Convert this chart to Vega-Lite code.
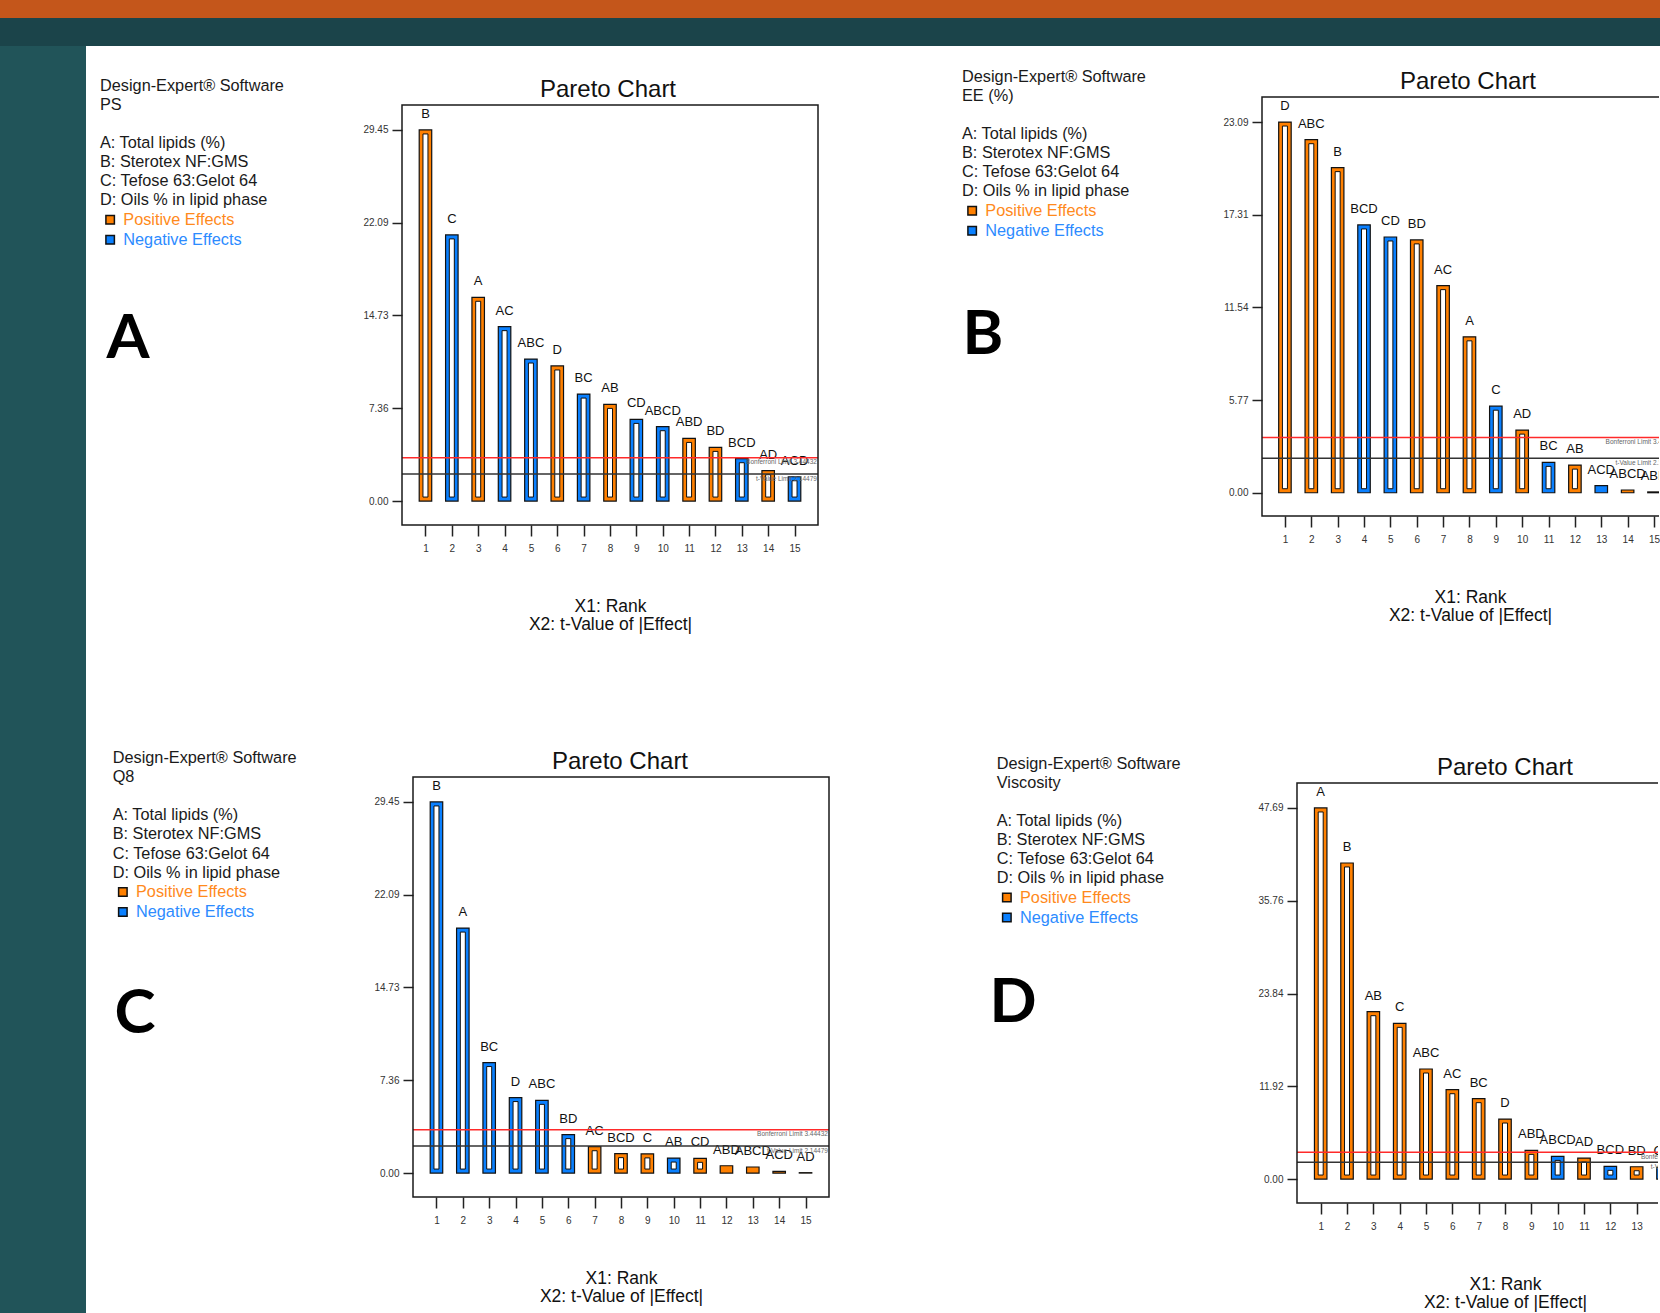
{
"$schema": "https://vega.github.io/schema/vega-lite/v6.json",
"padding": 0,
"background": "white",
"columns": 5,
"spacing": 0,
"bounds": "flush",
"align": "each",
"resolve": {"scale": {"color": "independent", "stroke": "independent"}, "legend": {"color": "independent"}},
"config": {"view": {"stroke": null}, "font": "Liberation Sans", "axis": {"grid": false, "labelOverlap": false}, "axisX": {"labelOverlap": false}},
"datasets": {
"limits": [{"limit": "Bonferroni Limit", "value": 3.44432, "label": "Bonferroni Limit 3.44432"}, {"limit": "t-Value Limit", "value": 2.14479, "label": "t-Value Limit 2.14479"}],
"ps": [
{"rank": 1, "term": "B", "t": 29.45, "effect": "Positive Effects"},
{"rank": 2, "term": "C", "t": 21.12, "effect": "Negative Effects"},
{"rank": 3, "term": "A", "t": 16.17, "effect": "Positive Effects"},
{"rank": 4, "term": "AC", "t": 13.84, "effect": "Negative Effects"},
{"rank": 5, "term": "ABC", "t": 11.27, "effect": "Negative Effects"},
{"rank": 6, "term": "D", "t": 10.72, "effect": "Positive Effects"},
{"rank": 7, "term": "BC", "t": 8.49, "effect": "Negative Effects"},
{"rank": 8, "term": "AB", "t": 7.67, "effect": "Positive Effects"},
{"rank": 9, "term": "CD", "t": 6.48, "effect": "Negative Effects"},
{"rank": 10, "term": "ABCD", "t": 5.90, "effect": "Negative Effects"},
{"rank": 11, "term": "ABD", "t": 4.97, "effect": "Positive Effects"},
{"rank": 12, "term": "BD", "t": 4.26, "effect": "Positive Effects"},
{"rank": 13, "term": "BCD", "t": 3.36, "effect": "Negative Effects"},
{"rank": 14, "term": "AD", "t": 2.41, "effect": "Positive Effects"},
{"rank": 15, "term": "ACD", "t": 1.93, "effect": "Negative Effects"}],
"ee": [
{"rank": 1, "term": "D", "t": 23.09, "effect": "Positive Effects"},
{"rank": 2, "term": "ABC", "t": 21.99, "effect": "Positive Effects"},
{"rank": 3, "term": "B", "t": 20.25, "effect": "Positive Effects"},
{"rank": 4, "term": "BCD", "t": 16.68, "effect": "Negative Effects"},
{"rank": 5, "term": "CD", "t": 15.93, "effect": "Negative Effects"},
{"rank": 6, "term": "BD", "t": 15.75, "effect": "Positive Effects"},
{"rank": 7, "term": "AC", "t": 12.90, "effect": "Positive Effects"},
{"rank": 8, "term": "A", "t": 9.71, "effect": "Positive Effects"},
{"rank": 9, "term": "C", "t": 5.39, "effect": "Negative Effects"},
{"rank": 10, "term": "AD", "t": 3.90, "effect": "Positive Effects"},
{"rank": 11, "term": "BC", "t": 1.89, "effect": "Negative Effects"},
{"rank": 12, "term": "AB", "t": 1.72, "effect": "Positive Effects"},
{"rank": 13, "term": "ACD", "t": 0.44, "effect": "Negative Effects"},
{"rank": 14, "term": "ABCD", "t": 0.17, "effect": "Positive Effects"},
{"rank": 15, "term": "ABD", "t": 0.05, "effect": "Positive Effects"}],
"q8": [
{"rank": 1, "term": "B", "t": 29.45, "effect": "Negative Effects"},
{"rank": 2, "term": "A", "t": 19.44, "effect": "Negative Effects"},
{"rank": 3, "term": "BC", "t": 8.77, "effect": "Negative Effects"},
{"rank": 4, "term": "D", "t": 5.99, "effect": "Negative Effects"},
{"rank": 5, "term": "ABC", "t": 5.77, "effect": "Negative Effects"},
{"rank": 6, "term": "BD", "t": 3.05, "effect": "Negative Effects"},
{"rank": 7, "term": "AC", "t": 2.09, "effect": "Positive Effects"},
{"rank": 8, "term": "BCD", "t": 1.54, "effect": "Positive Effects"},
{"rank": 9, "term": "C", "t": 1.52, "effect": "Positive Effects"},
{"rank": 10, "term": "AB", "t": 1.19, "effect": "Negative Effects"},
{"rank": 11, "term": "CD", "t": 1.17, "effect": "Positive Effects"},
{"rank": 12, "term": "ABD", "t": 0.58, "effect": "Positive Effects"},
{"rank": 13, "term": "ABCD", "t": 0.48, "effect": "Positive Effects"},
{"rank": 14, "term": "ACD", "t": 0.13, "effect": "Positive Effects"},
{"rank": 15, "term": "AD", "t": 0.03, "effect": "Positive Effects"}],
"visc": [
{"rank": 1, "term": "A", "t": 47.69, "effect": "Positive Effects"},
{"rank": 2, "term": "B", "t": 40.62, "effect": "Positive Effects"},
{"rank": 3, "term": "AB", "t": 21.51, "effect": "Positive Effects"},
{"rank": 4, "term": "C", "t": 20.01, "effect": "Positive Effects"},
{"rank": 5, "term": "ABC", "t": 14.14, "effect": "Positive Effects"},
{"rank": 6, "term": "AC", "t": 11.48, "effect": "Positive Effects"},
{"rank": 7, "term": "BC", "t": 10.33, "effect": "Positive Effects"},
{"rank": 8, "term": "D", "t": 7.71, "effect": "Positive Effects"},
{"rank": 9, "term": "ABD", "t": 3.68, "effect": "Positive Effects"},
{"rank": 10, "term": "ABCD", "t": 2.91, "effect": "Negative Effects"},
{"rank": 11, "term": "AD", "t": 2.70, "effect": "Positive Effects"},
{"rank": 12, "term": "BCD", "t": 1.63, "effect": "Negative Effects"},
{"rank": 13, "term": "BD", "t": 1.58, "effect": "Positive Effects"},
{"rank": 14, "term": "CD", "t": 1.50, "effect": "Negative Effects"},
{"rank": 15, "term": "ACD", "t": 0.90, "effect": "Negative Effects"}]
},
"concat": [
{"width": 86, "height": 18, "view": {"fill": "#C4561B", "stroke": null}, "data": {"values": []}, "mark": "point"},
{"width": 316, "height": 18, "view": {"fill": "#C4561B", "stroke": null}, "data": {"values": []}, "mark": "point"},
{"width": 427, "height": 18, "view": {"fill": "#C4561B", "stroke": null}, "data": {"values": []}, "mark": "point"},
{"width": 432, "height": 18, "view": {"fill": "#C4561B", "stroke": null}, "data": {"values": []}, "mark": "point"},
{"width": 399, "height": 18, "view": {"fill": "#C4561B", "stroke": null}, "data": {"values": []}, "mark": "point"},

{"width": 86, "height": 28, "view": {"fill": "#1B444A", "stroke": null}, "data": {"values": []}, "mark": "point"},
{"width": 316, "height": 28, "view": {"fill": "#1B444A", "stroke": null}, "data": {"values": []}, "mark": "point"},
{"width": 427, "height": 28, "view": {"fill": "#1B444A", "stroke": null}, "data": {"values": []}, "mark": "point"},
{"width": 432, "height": 28, "view": {"fill": "#1B444A", "stroke": null}, "data": {"values": []}, "mark": "point"},
{"width": 399, "height": 28, "view": {"fill": "#1B444A", "stroke": null}, "data": {"values": []}, "mark": "point"},

{"width": 86, "height": 50, "view": {"fill": "#215459", "stroke": null}, "data": {"values": []}, "mark": "point"},
{"width": 316, "height": 50, "data": {"values": []}, "mark": "point"},
{"width": 427, "height": 50, "data": {"values": []}, "mark": "point"},
{"width": 432, "height": 50, "data": {"values": []}, "mark": "point"},
{"width": 399, "height": 50, "data": {"values": []}, "mark": "point"},

{"width": 86, "height": 429, "view": {"fill": "#215459", "stroke": null}, "data": {"values": []}, "mark": "point"},
{"width": 316, "height": 429, "data": {"values": []}, "mark": "point"},
{
 "width": 416, "height": 429,
 "title": {"text": "Pareto Chart", "frame": "group", "fontSize": 24, "fontWeight": "normal", "color": "#111111", "offset": 0, "dy": 43.5, "dx": -2, "baseline": "alphabetic", "anchor": "middle"},
 "data": {"name": "ps"},
 "layer": [
  {"mark": {"type": "bar", "width": 12.5, "stroke": "#111111", "strokeWidth": 1.2},
   "encoding": {
    "x": {"field": "rank", "type": "quantitative", "scale": {"domain": [0.11, 15.89], "nice": false, "zero": false, "padding": 0},
     "axis": {"values": [1,2,3,4,5,6,7,8,9,10,11,12,13,14,15], "tickCount": 30, "format": "d", "domain": false, "tickSize": 11, "tickWidth": 1.5, "tickColor": "#222222", "labelFontSize": 10, "labelColor": "#333333", "labelPadding": 7, "labelFlush": false, "labelOverlap": false,
      "title": ["X1: Rank", "X2: t-Value of |Effect|"], "titleFontSize": 17.5, "titleFontWeight": "normal", "titleColor": "#111111", "titleLineHeight": 18, "titleX": 208, "titleY": 86.5, "titleAlign": "center", "titleBaseline": "alphabetic"}},
    "y": {"field": "t", "type": "quantitative", "scale": {"domain": [-1.9, 32.144], "nice": false, "zero": false},
     "axis": {"values": [0, 7.36, 14.73, 22.09, 29.45], "tickCount": 30, "format": ".2f", "domain": false, "tickSize": 10, "tickWidth": 1.5, "tickColor": "#222222", "labelFontSize": 10, "labelColor": "#333333", "labelPadding": 4, "labelFlush": false, "labelOverlap": false,
      "title": "A", "titleAngle": 0, "titleFont": "Lato", "titleFontSize": 62, "titleFontWeight": "bold", "titleColor": "#000000", "titleX": -296, "titleY": 261, "titleAlign": "left", "titleBaseline": "alphabetic"}},
    "color": {"field": "effect", "type": "nominal", "scale": {"domain": ["Positive Effects", "Negative Effects"], "range": ["#FF8000", "#0A80FF"]},
     "legend": {"orient": "none", "legendX": -302, "legendY": -18.2, "padding": 0,
      "title": ["Design-Expert® Software", "PS", "\u200b", "A: Total lipids (%)", "B: Sterotex NF:GMS", "C: Tefose 63:Gelot 64", "D: Oils % in lipid phase"],
      "titleFontSize": 16.3, "titleFontWeight": "normal", "titleColor": "#1a1a1a", "titleLineHeight": 19.1, "titlePadding": 3, "titleLimit": 400, "titleAnchor": "start",
      "symbolType": "square", "symbolSize": 72, "symbolStrokeColor": "#111111", "symbolStrokeWidth": 1.5, "symbolOffset": 2,
      "labelFontSize": 16.3, "labelOffset": 5, "labelLimit": 300, "rowPadding": 3,
      "encode": {"labels": {"update": {"fill": {"signal": "datum.value === 'Positive Effects' ? '#FF8A1C' : '#2C8BFF'"}}}}}}
   }},
  {"transform": [{"filter": "datum.t > 0.75"}],
   "mark": {"type": "bar", "width": 5, "fill": "white", "stroke": "#111111", "strokeWidth": 1, "yOffset": 4, "y2Offset": -4},
   "encoding": {"x": {"field": "rank", "type": "quantitative"}, "y": {"field": "t", "type": "quantitative"}, "y2": {"datum": 0}}},
  {"mark": {"type": "text", "baseline": "alphabetic", "dy": -12, "fontSize": 13, "color": "#111111"},
   "encoding": {"x": {"field": "rank", "type": "quantitative"}, "y": {"field": "t", "type": "quantitative"}, "text": {"field": "term"}}},
  {"data": {"name": "limits"}, "mark": {"type": "rule", "strokeWidth": 1.5},
   "encoding": {"x": {"datum": 0.11}, "x2": {"datum": 15.89}, "y": {"field": "value", "type": "quantitative"}, "stroke": {"field": "limit", "type": "nominal", "scale": {"domain": ["Bonferroni Limit", "t-Value Limit"], "range": ["#FF2A2A", "#333333"]}, "legend": null}}},
  {"data": {"name": "limits"}, "mark": {"type": "text", "align": "right", "baseline": "top", "dy": 1.5, "fontSize": 6.5, "color": "#666666"},
   "encoding": {"x": {"datum": 15.85}, "y": {"field": "value", "type": "quantitative"}, "text": {"field": "label"}}},
  {"data": {"values": [{}]}, "mark": {"type": "rect", "filled": false, "color": "#1a1a1a", "strokeWidth": 1.5},
   "encoding": {"x": {"datum": 0.11}, "x2": {"datum": 15.89}, "y": {"datum": -1.9}, "y2": {"datum": 31.43}}}
 ]
},
{"width": 432, "height": 421, "data": {"values": []}, "mark": "point"},
{
 "width": 398, "height": 421,
 "title": {"text": "Pareto Chart", "frame": "group", "fontSize": 24, "fontWeight": "normal", "color": "#111111", "offset": 0, "dy": 43.9, "dx": 8, "baseline": "alphabetic", "anchor": "middle"},
 "data": {"name": "ee"},
 "layer": [
  {"mark": {"type": "bar", "width": 12.5, "stroke": "#111111", "strokeWidth": 1.2, "clip": true},
   "encoding": {
    "x": {"field": "rank", "type": "quantitative", "scale": {"domain": [0.092, 15.19], "nice": false, "zero": false, "padding": 0},
     "axis": {"values": [1,2,3,4,5,6,7,8,9,10,11,12,13,14,15], "tickCount": 30, "format": "d", "domain": false, "offset": -1, "tickSize": 11, "tickWidth": 1.5, "tickColor": "#222222", "labelFontSize": 10, "labelColor": "#333333", "labelPadding": 7, "labelFlush": false, "labelOverlap": false,
      "title": ["X1: Rank", "X2: t-Value of |Effect|"], "titleFontSize": 17.5, "titleFontWeight": "normal", "titleColor": "#111111", "titleLineHeight": 18, "titleX": 209, "titleY": 86.5, "titleAlign": "center", "titleBaseline": "alphabetic"}},
    "y": {"field": "t", "type": "quantitative", "scale": {"domain": [-1.512, 24.712], "nice": false, "zero": false},
     "axis": {"values": [0, 5.77, 11.54, 17.31, 23.09], "tickCount": 30, "format": ".2f", "domain": false, "offset": -1, "tickSize": 10, "tickWidth": 1.5, "tickColor": "#222222", "labelFontSize": 10, "labelColor": "#333333", "labelPadding": 4, "labelFlush": false, "labelOverlap": false,
      "title": "B", "titleAngle": 0, "titleFont": "Lato", "titleFontSize": 62, "titleFontWeight": "bold", "titleColor": "#000000", "titleX": -300, "titleY": 257, "titleAlign": "left", "titleBaseline": "alphabetic"}},
    "color": {"field": "effect", "type": "nominal", "scale": {"domain": ["Positive Effects", "Negative Effects"], "range": ["#FF8000", "#0A80FF"]},
     "legend": {"orient": "none", "legendX": -299, "legendY": -27.2, "padding": 0,
      "title": ["Design-Expert® Software", "EE (%)", "\u200b", "A: Total lipids (%)", "B: Sterotex NF:GMS", "C: Tefose 63:Gelot 64", "D: Oils % in lipid phase"],
      "titleFontSize": 16.3, "titleFontWeight": "normal", "titleColor": "#1a1a1a", "titleLineHeight": 19.1, "titlePadding": 3, "titleLimit": 400, "titleAnchor": "start",
      "symbolType": "square", "symbolSize": 72, "symbolStrokeColor": "#111111", "symbolStrokeWidth": 1.5, "symbolOffset": 2,
      "labelFontSize": 16.3, "labelOffset": 5, "labelLimit": 300, "rowPadding": 3,
      "encode": {"labels": {"update": {"fill": {"signal": "datum.value === 'Positive Effects' ? '#FF8A1C' : '#2C8BFF'"}}}}}}
   }},
  {"transform": [{"filter": "datum.t > 0.6"}],
   "mark": {"type": "bar", "width": 5, "fill": "white", "stroke": "#111111", "strokeWidth": 1, "yOffset": 4, "y2Offset": -4, "clip": true},
   "encoding": {"x": {"field": "rank", "type": "quantitative"}, "y": {"field": "t", "type": "quantitative"}, "y2": {"datum": 0}}},
  {"mark": {"type": "text", "baseline": "alphabetic", "dy": -12, "fontSize": 13, "color": "#111111", "clip": true},
   "encoding": {"x": {"field": "rank", "type": "quantitative"}, "y": {"field": "t", "type": "quantitative"}, "text": {"field": "term"}}},
  {"data": {"name": "limits"}, "mark": {"type": "rule", "strokeWidth": 1.5, "clip": true},
   "encoding": {"x": {"datum": 0.13}, "x2": {"datum": 15.9}, "y": {"field": "value", "type": "quantitative"}, "stroke": {"field": "limit", "type": "nominal", "scale": {"domain": ["Bonferroni Limit", "t-Value Limit"], "range": ["#FF2A2A", "#333333"]}, "legend": null}}},
  {"data": {"name": "limits"}, "mark": {"type": "text", "align": "right", "baseline": "top", "dy": 1.5, "fontSize": 6.5, "color": "#666666", "clip": true},
   "encoding": {"x": {"datum": 15.85}, "y": {"field": "value", "type": "quantitative"}, "text": {"field": "label"}}},
  {"data": {"values": [{}]}, "mark": {"type": "rect", "filled": false, "color": "#1a1a1a", "strokeWidth": 1.5, "clip": true},
   "encoding": {"x": {"datum": 0.13}, "x2": {"datum": 15.9}, "y": {"datum": -1.45}, "y2": {"datum": 24.65}}}
 ]
},

{"width": 86, "height": 252, "view": {"fill": "#215459", "stroke": null}, "data": {"values": []}, "mark": "point"},
{"width": 316, "height": 252, "data": {"values": []}, "mark": "point"},
{"width": 427, "height": 252, "data": {"values": []}, "mark": "point"},
{"width": 432, "height": 252, "data": {"values": []}, "mark": "point"},
{"width": 399, "height": 252, "data": {"values": []}, "mark": "point"},

{"width": 86, "height": 536, "view": {"fill": "#215459", "stroke": null}, "data": {"values": []}, "mark": "point"},
{"width": 316, "height": 427, "data": {"values": []}, "mark": "point"},
{
 "width": 427, "height": 420,
 "title": {"text": "Pareto Chart", "frame": "group", "fontSize": 24, "fontWeight": "normal", "color": "#111111", "offset": 0, "dy": 43.1, "dx": 4.5, "baseline": "alphabetic", "anchor": "middle"},
 "data": {"name": "q8"},
 "layer": [
  {"mark": {"type": "bar", "width": 12.5, "stroke": "#111111", "strokeWidth": 1.2},
   "encoding": {
    "x": {"field": "rank", "type": "quantitative", "scale": {"domain": [-0.3073, 15.89], "nice": false, "zero": false, "padding": 0},
     "axis": {"values": [1,2,3,4,5,6,7,8,9,10,11,12,13,14,15], "tickCount": 30, "format": "d", "domain": false, "tickSize": 11, "tickWidth": 1.5, "tickColor": "#222222", "labelFontSize": 10, "labelColor": "#333333", "labelPadding": 7, "labelFlush": false, "labelOverlap": false,
      "title": ["X1: Rank", "X2: t-Value of |Effect|"], "titleFontSize": 17.5, "titleFontWeight": "normal", "titleColor": "#111111", "titleLineHeight": 18, "titleX": 219, "titleY": 86.5, "titleAlign": "center", "titleBaseline": "alphabetic"}},
    "y": {"field": "t", "type": "quantitative", "scale": {"domain": [-1.9, 31.43], "nice": false, "zero": false},
     "axis": {"values": [0, 7.36, 14.73, 22.09, 29.45], "tickCount": 30, "format": ".2f", "domain": false, "offset": -11, "tickSize": 10, "tickWidth": 1.5, "tickColor": "#222222", "labelFontSize": 10, "labelColor": "#333333", "labelPadding": 4, "labelFlush": false, "labelOverlap": false,
      "title": "C", "titleAngle": 0, "titleFont": "Lato", "titleFontSize": 62, "titleFontWeight": "bold", "titleColor": "#000000", "titleX": -299, "titleY": 255, "titleAlign": "left", "titleBaseline": "alphabetic"}},
    "color": {"field": "effect", "type": "nominal", "scale": {"domain": ["Positive Effects", "Negative Effects"], "range": ["#FF8000", "#0A80FF"]},
     "legend": {"orient": "none", "legendX": -289.3, "legendY": -27, "padding": 0,
      "title": ["Design-Expert® Software", "Q8", "\u200b", "A: Total lipids (%)", "B: Sterotex NF:GMS", "C: Tefose 63:Gelot 64", "D: Oils % in lipid phase"],
      "titleFontSize": 16.3, "titleFontWeight": "normal", "titleColor": "#1a1a1a", "titleLineHeight": 19.1, "titlePadding": 3, "titleLimit": 400, "titleAnchor": "start",
      "symbolType": "square", "symbolSize": 72, "symbolStrokeColor": "#111111", "symbolStrokeWidth": 1.5, "symbolOffset": 2,
      "labelFontSize": 16.3, "labelOffset": 5, "labelLimit": 300, "rowPadding": 3,
      "encode": {"labels": {"update": {"fill": {"signal": "datum.value === 'Positive Effects' ? '#FF8A1C' : '#2C8BFF'"}}}}}}
   }},
  {"transform": [{"filter": "datum.t > 0.75"}],
   "mark": {"type": "bar", "width": 5, "fill": "white", "stroke": "#111111", "strokeWidth": 1, "yOffset": 4, "y2Offset": -4},
   "encoding": {"x": {"field": "rank", "type": "quantitative"}, "y": {"field": "t", "type": "quantitative"}, "y2": {"datum": 0}}},
  {"mark": {"type": "text", "baseline": "alphabetic", "dy": -12, "fontSize": 13, "color": "#111111"},
   "encoding": {"x": {"field": "rank", "type": "quantitative"}, "y": {"field": "t", "type": "quantitative"}, "text": {"field": "term"}}},
  {"data": {"name": "limits"}, "mark": {"type": "rule", "strokeWidth": 1.5},
   "encoding": {"x": {"datum": 0.11}, "x2": {"datum": 15.89}, "y": {"field": "value", "type": "quantitative"}, "stroke": {"field": "limit", "type": "nominal", "scale": {"domain": ["Bonferroni Limit", "t-Value Limit"], "range": ["#FF2A2A", "#333333"]}, "legend": null}}},
  {"data": {"name": "limits"}, "mark": {"type": "text", "align": "right", "baseline": "top", "dy": 1.5, "fontSize": 6.5, "color": "#666666"},
   "encoding": {"x": {"datum": 15.85}, "y": {"field": "value", "type": "quantitative"}, "text": {"field": "label"}}},
  {"data": {"values": [{}]}, "mark": {"type": "rect", "filled": false, "color": "#1a1a1a", "strokeWidth": 1.5},
   "encoding": {"x": {"datum": 0.11}, "x2": {"datum": 15.89}, "y": {"datum": -1.9}, "y2": {"datum": 31.43}}}
 ]
},
{"width": 432, "height": 427, "data": {"values": []}, "mark": "point"},
{
 "width": 397, "height": 427,
 "title": {"text": "Pareto Chart", "frame": "group", "fontSize": 24, "fontWeight": "normal", "color": "#111111", "offset": 0, "dy": 43.1, "dx": 45.5, "baseline": "alphabetic", "anchor": "middle"},
 "data": {"name": "visc"},
 "layer": [
  {"mark": {"type": "bar", "width": 12.5, "stroke": "#111111", "strokeWidth": 1.2, "clip": true},
   "encoding": {
    "x": {"field": "rank", "type": "quantitative", "scale": {"domain": [-1.267, 13.81], "nice": false, "zero": false, "padding": 0},
     "axis": {"values": [1,2,3,4,5,6,7,8,9,10,11,12,13], "tickCount": 30, "format": "d", "domain": false, "offset": -1, "tickSize": 11, "tickWidth": 1.5, "tickColor": "#222222", "labelFontSize": 10, "labelColor": "#333333", "labelPadding": 7, "labelFlush": false, "labelOverlap": false,
      "title": ["X1: Rank", "X2: t-Value of |Effect|"], "titleFontSize": 17.5, "titleFontWeight": "normal", "titleColor": "#111111", "titleLineHeight": 18, "titleX": 244, "titleY": 86.5, "titleAlign": "center", "titleBaseline": "alphabetic"}},
    "y": {"field": "t", "type": "quantitative", "scale": {"domain": [-3.2085, 51.671], "nice": false, "zero": false},
     "axis": {"values": [0, 11.92, 23.84, 35.76, 47.69], "tickCount": 30, "format": ".2f", "domain": false, "offset": -36, "tickSize": 10, "tickWidth": 1.5, "tickColor": "#222222", "labelFontSize": 10, "labelColor": "#333333", "labelPadding": 4, "labelFlush": false, "labelOverlap": false,
      "title": "D", "titleAngle": 0, "titleFont": "Lato", "titleFontSize": 62, "titleFontWeight": "bold", "titleColor": "#000000", "titleX": -308, "titleY": 244, "titleAlign": "left", "titleBaseline": "alphabetic"}},
    "color": {"field": "effect", "type": "nominal", "scale": {"domain": ["Positive Effects", "Negative Effects"], "range": ["#FF8000", "#0A80FF"]},
     "legend": {"orient": "none", "legendX": -264.3, "legendY": -21.5, "padding": 0,
      "title": ["Design-Expert® Software", "Viscosity", "\u200b", "A: Total lipids (%)", "B: Sterotex NF:GMS", "C: Tefose 63:Gelot 64", "D: Oils % in lipid phase"],
      "titleFontSize": 16.3, "titleFontWeight": "normal", "titleColor": "#1a1a1a", "titleLineHeight": 19.1, "titlePadding": 3, "titleLimit": 400, "titleAnchor": "start",
      "symbolType": "square", "symbolSize": 72, "symbolStrokeColor": "#111111", "symbolStrokeWidth": 1.5, "symbolOffset": 2,
      "labelFontSize": 16.3, "labelOffset": 5, "labelLimit": 300, "rowPadding": 3,
      "encode": {"labels": {"update": {"fill": {"signal": "datum.value === 'Positive Effects' ? '#FF8A1C' : '#2C8BFF'"}}}}}}
   }},
  {"transform": [{"filter": "datum.t > 1.2"}],
   "mark": {"type": "bar", "width": 5, "fill": "white", "stroke": "#111111", "strokeWidth": 1, "yOffset": 4, "y2Offset": -4, "clip": true},
   "encoding": {"x": {"field": "rank", "type": "quantitative"}, "y": {"field": "t", "type": "quantitative"}, "y2": {"datum": 0}}},
  {"mark": {"type": "text", "baseline": "alphabetic", "dy": -12, "fontSize": 13, "color": "#111111", "clip": true},
   "encoding": {"x": {"field": "rank", "type": "quantitative"}, "y": {"field": "t", "type": "quantitative"}, "text": {"field": "term"}}},
  {"data": {"name": "limits"}, "mark": {"type": "rule", "strokeWidth": 1.5, "clip": true},
   "encoding": {"x": {"datum": 0.1}, "x2": {"datum": 15.9}, "y": {"field": "value", "type": "quantitative"}, "stroke": {"field": "limit", "type": "nominal", "scale": {"domain": ["Bonferroni Limit", "t-Value Limit"], "range": ["#FF2A2A", "#333333"]}, "legend": null}}},
  {"data": {"name": "limits"}, "mark": {"type": "text", "align": "right", "baseline": "top", "dy": 1.5, "fontSize": 6.5, "color": "#666666", "clip": true},
   "encoding": {"x": {"datum": 15.85}, "y": {"field": "value", "type": "quantitative"}, "text": {"field": "label"}}},
  {"data": {"values": [{}]}, "mark": {"type": "rect", "filled": false, "color": "#1a1a1a", "strokeWidth": 1.5, "clip": true},
   "encoding": {"x": {"datum": 0.1}, "x2": {"datum": 15.9}, "y": {"datum": -3.08}, "y2": {"datum": 50.9}}}
 ]
}
]
}
